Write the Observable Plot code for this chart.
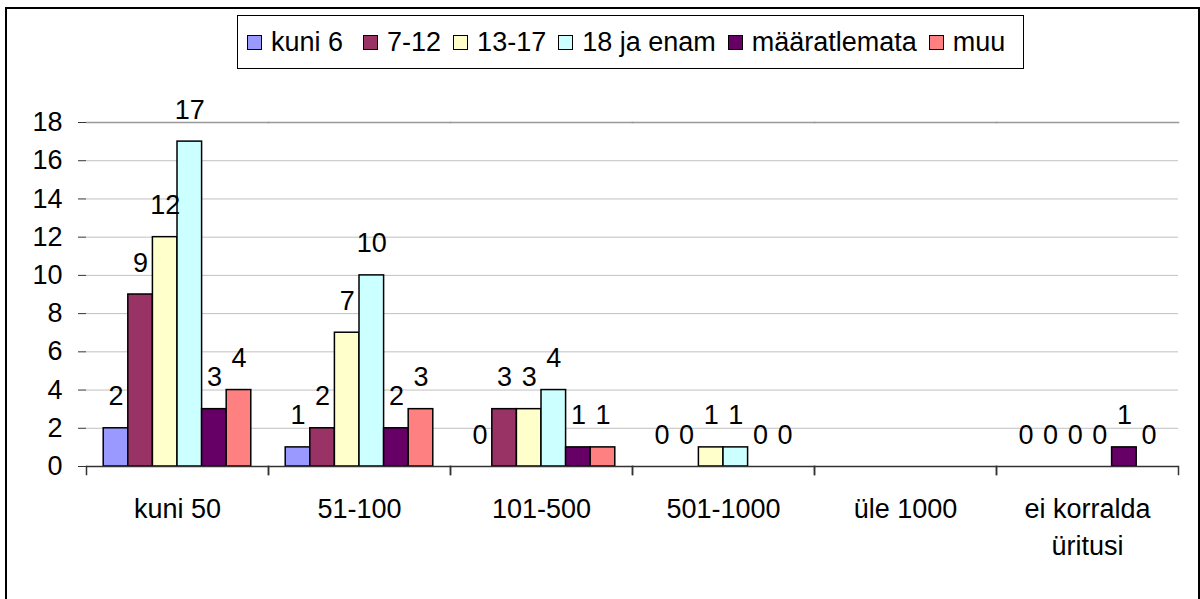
<!DOCTYPE html>
<html>
<head>
<meta charset="utf-8">
<script src="https://cdn.jsdelivr.net/npm/d3@7"></script>
<script src="https://cdn.jsdelivr.net/npm/@observablehq/plot@0.6"></script>
<style>
  html, body { margin: 0; padding: 0; background: #fff; }
  body { width: 1200px; height: 599px; overflow: hidden; position: relative;
         font-family: "Liberation Sans", Arial, sans-serif; color: #000; }
  #border { position: absolute; left: 5px; top: 7px; width: 1195px; height: 640px;
            border: 2px solid #000; box-sizing: border-box; pointer-events: none; }
  #legendRow { height: 80px; position: relative; }
  #legend { position: absolute; left: 237px; top: 15px; width: 787px; height: 54px;
            border: 1.5px solid #000; box-sizing: border-box; display: flex;
            align-items: center; padding-left: 9px; font-size: 27px; background: #fff; }
  .item { display: flex; align-items: center; margin-right: 12px; white-space: nowrap; }
  .item:first-child { margin-right: 20px; }
  .sw { width: 15px; height: 15px; border: 1.5px solid #000; box-sizing: border-box; margin-right: 9px; }
  #chart svg { display: block; }
</style>
</head>
<body>
<div id="legendRow"><div id="legend"></div></div>
<div id="chart"></div>
<div id="border"></div>
<script>
// ---- data ----
const categories = ["kuni 50", "51-100", "101-500", "501-1000", "üle 1000", "ei korralda üritusi"];
const categoryLabels = ["kuni 50", "51-100", "101-500", "501-1000", "üle 1000", "ei korralda\nüritusi"];
const seriesNames = ["kuni 6", "7-12", "13-17", "18 ja enam", "määratlemata", "muu"];
const seriesColors = ["#9999FF", "#993366", "#FFFFCC", "#CCFFFF", "#660066", "#FF8080"];
const kuni6        = [2, 1, 0, 0, null, 0];
const v7_12        = [9, 2, 3, 0, null, 0];
const v13_17       = [12, 7, 3, 1, null, 0];
const v18jaEnam    = [17, 10, 4, 1, null, 0];
const maaratlemata = [3, 2, 1, 0, null, 1];
const muu          = [4, 3, 1, 0, null, 0];
const yTicks = [0, 2, 4, 6, 8, 10, 12, 14, 16, 18];

const seriesValues = [kuni6, v7_12, v13_17, v18jaEnam, maaratlemata, muu];
const data = [];
categories.forEach((c, i) => {
  seriesNames.forEach((s, j) => {
    data.push({category: c, series: s, value: seriesValues[j][i]});
  });
});
const labelOf = new Map(categories.map((c, i) => [c, categoryLabels[i]]));

// ---- legend ----
const legend = document.getElementById("legend");
seriesNames.forEach((s, j) => {
  const it = document.createElement("div");
  it.className = "item";
  const sw = document.createElement("div");
  sw.className = "sw";
  sw.style.background = seriesColors[j];
  const tx = document.createElement("span");
  tx.textContent = s;
  it.appendChild(sw); it.appendChild(tx);
  legend.appendChild(it);
});

// ---- chart ----
const width = 1200, height = 519;
const marginTop = 42, marginBottom = 133, marginLeft = 83, marginRight = 20;
const plotH = height - marginTop - marginBottom;

const chart = Plot.plot({
  width, height, marginTop, marginBottom, marginLeft, marginRight,
  style: {fontFamily: "'Liberation Sans', Arial, sans-serif", fontSize: "27px", background: "#fff", color: "#000"},
  fx: {domain: categories, padding: 0, axis: null},
  x: {domain: seriesNames, paddingInner: 0, paddingOuter: 0.7, round: false, axis: null},
  y: {domain: [0, 18], axis: null},
  color: {domain: seriesNames, range: seriesColors, legend: false},
  marks: [
    Plot.gridY({ticks: yTicks, stroke: "#c0c0c0", strokeOpacity: 1, strokeWidth: 1}),
    Plot.frame({anchor: "top", stroke: "#999", strokeWidth: 1.5}),
    Plot.axisY({anchor: "right", ticks: [], line: true, stroke: "#999", strokeWidth: 1.5, tickSize: 0, label: null}),
    Plot.barY(data.filter(d => d.value > 0), {
      fx: "category", x: "series", y: "value", fill: "series", stroke: "#000", strokeWidth: 1.5
    }),
    Plot.text(data.filter(d => d.value != null), {
      fx: "category", x: "series", y: "value", text: d => String(d.value),
      lineAnchor: "bottom", dy: -23, fill: "#000"
    }),
    Plot.ruleY([0], {stroke: "#333", strokeWidth: 1.5}),
    Plot.frame({anchor: "left", insetTop: plotH, insetBottom: -8, stroke: "#333", strokeWidth: 1.5}),
    Plot.frame({anchor: "right", insetTop: plotH, insetBottom: -8, stroke: "#333", strokeWidth: 1.5}),
    Plot.axisY({anchor: "left", ticks: yTicks, tickSize: 8, tickPadding: 16, line: true,
      stroke: "#333", label: null, fill: "#000"}),
    Plot.text(categories, {
      fx: d => d, text: d => labelOf.get(d), frameAnchor: "bottom",
      lineAnchor: "top", dy: 25, lineHeight: 1.38, fill: "#000"
    })
  ]
});
document.getElementById("chart").appendChild(chart);
</script>
</body>
</html>
